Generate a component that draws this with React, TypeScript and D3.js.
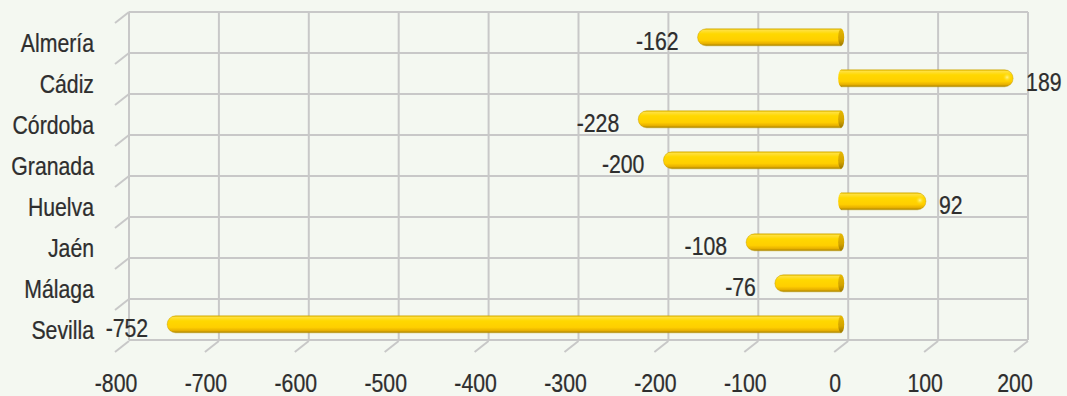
import React from "react";
import * as d3 from "d3";

const categories = ["Almería", "Cádiz", "Córdoba", "Granada", "Huelva", "Jaén", "Málaga", "Sevilla"];
const values = [-162, 189, -228, -200, 92, -108, -76, -752];
const xTicks = [-800, -700, -600, -500, -400, -300, -200, -100, 0, 100, 200];

const W = 1067;
const H = 396;
const left = 129;
const right = 1028;
const top = 12;
const bottom = 340;
const depthX = -14;
const depthY = 11;
const FS = 25;
const SX = 0.85;

export default function App() {
  const x = d3.scaleLinear().domain([-800, 200]).range([left, right]);
  const y = d3.scaleBand<string>().domain(categories).range([top, bottom]).padding(0);
  const bw = y.bandwidth();
  const grid = "#c8c8c8";
  const textColor = "#2e2e2e";
  const r = 8.5;
  const zeroX = x(0) - 7;

  const T = (props: { x: number; y: number; anchor: string; children: React.ReactNode }) => (
    <g transform={`translate(${props.x},${props.y}) scale(${SX},1)`}>
      <text
        textAnchor={props.anchor as any}
        fontFamily="'Liberation Sans', Arial, sans-serif"
        fontSize={FS}
        fill={textColor}
        stroke={textColor}
        strokeWidth={0.25}
      >
        {props.children}
      </text>
    </g>
  );

  return (
    <svg width={W} height={H} style={{ position: "absolute", left: 0, top: 0, background: "#f4f8f1" }}>
      <defs>
        <linearGradient id="barGrad" x1="0" y1="0" x2="0" y2="1">
          <stop offset="0%" stopColor="#e8be00" />
          <stop offset="10%" stopColor="#ffe03a" />
          <stop offset="30%" stopColor="#ffd800" />
          <stop offset="68%" stopColor="#ffcf00" />
          <stop offset="86%" stopColor="#e9b200" />
          <stop offset="100%" stopColor="#a88200" />
        </linearGradient>
        <linearGradient id="capGrad" x1="0" y1="0" x2="0" y2="1">
          <stop offset="0%" stopColor="#e6b800" />
          <stop offset="60%" stopColor="#d3a400" />
          <stop offset="100%" stopColor="#9c7800" />
        </linearGradient>
        <radialGradient id="hl" cx="0.5" cy="0.5" r="0.5">
          <stop offset="0%" stopColor="#fff6a0" stopOpacity="0.9" />
          <stop offset="100%" stopColor="#ffe000" stopOpacity="0" />
        </radialGradient>
      </defs>
      <rect x={0} y={0} width={W} height={H} fill="#f4f8f1" />

      {/* vertical gridlines */}
      {xTicks.map((t) => (
        <g key={"v" + t}>
          <line x1={x(t)} x2={x(t)} y1={top} y2={bottom} stroke={grid} strokeWidth={2} />
          <line x1={x(t)} x2={x(t) + depthX} y1={bottom + 1} y2={bottom + 1 + depthY} stroke={grid} strokeWidth={2} />
        </g>
      ))}
      {/* horizontal gridlines */}
      {categories.map((c) => (
        <g key={"h" + c}>
          <line x1={left} x2={right} y1={y(c)!} y2={y(c)!} stroke={grid} strokeWidth={2} />
          <line x1={left} x2={left + depthX} y1={y(c)!} y2={y(c)! + depthY} stroke={grid} strokeWidth={2} />
        </g>
      ))}
      <line x1={left} x2={right} y1={bottom} y2={bottom} stroke={grid} strokeWidth={2} />

      {/* bars */}
      {categories.map((c, i) => {
        const v = values[i];
        const cy = y(c)! + bw / 2 + 4.8;
        const yt = cy - r;
        const yb = cy + r;
        const end = x(v) - 5;
        let d: string;
        if (v < 0) {
          d = `M${zeroX},${yt} L${end + r},${yt} A${r},${r} 0 0 0 ${end + r},${yb} L${zeroX},${yb} Z`;
        } else {
          d = `M${zeroX},${yt} L${end - r},${yt} A${r},${r} 0 0 1 ${end - r},${yb} L${zeroX},${yb} Z`;
        }
        return (
          <g key={"b" + c}>
            <path d={d} fill="url(#barGrad)" stroke="#c29a00" strokeOpacity={0.55} strokeWidth={0.8} />
            {v < 0 ? (
              <ellipse cx={zeroX} cy={cy} rx={3} ry={r} fill="url(#capGrad)" />
            ) : (
              <>
                <ellipse cx={zeroX} cy={cy} rx={3} ry={r} fill="url(#barGrad)" />
                <ellipse cx={end - 6} cy={cy - 1} rx={4.5} ry={4.5} fill="url(#hl)" />
              </>
            )}
          </g>
        );
      })}

      {/* value labels */}
      {categories.map((c, i) => {
        const v = values[i];
        const by = y(c)! + bw / 2 + 17.5;
        const end = x(v) - 5;
        return v < 0 ? (
          <T key={"l" + c} x={end - 19} y={by} anchor="end">{v}</T>
        ) : (
          <T key={"l" + c} x={end + 13} y={by} anchor="start">{v}</T>
        );
      })}

      {/* category labels */}
      {categories.map((c) => (
        <T key={"c" + c} x={94} y={y(c)! + bw / 2 + 19} anchor="end">{c}</T>
      ))}

      {/* x tick labels */}
      {xTicks.map((t) => (
        <T key={"t" + t} x={x(t) - 13} y={392} anchor="middle">{t}</T>
      ))}
    </svg>
  );
}
